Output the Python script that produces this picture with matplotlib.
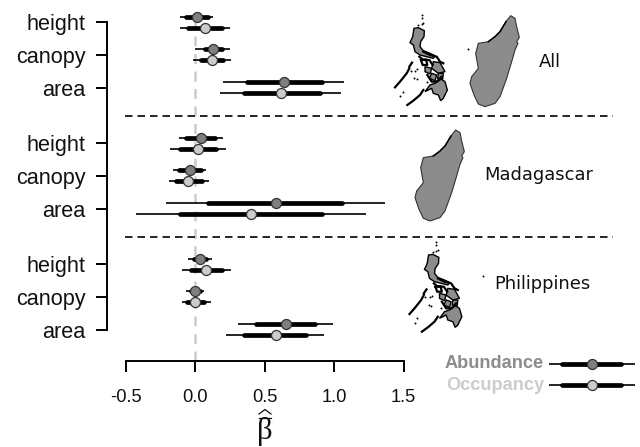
import numpy as np
from matplotlib import pyplot as plt
from matplotlib.patches import Polygon

plt.rcParams['font.family'] = ['Liberation Sans', 'DejaVu Sans']

variables = ['height', 'canopy', 'area']
regions = ['All', 'Madagascar', 'Philippines']

# each row: thin low, thick low, mean, thick high, thin high
abundance = {
    'All': [[-0.11, -0.07, 0.01, 0.09, 0.13],
            [0.00, 0.07, 0.13, 0.19, 0.25],
            [0.20, 0.37, 0.64, 0.91, 1.07]],
    'Madagascar': [[-0.12, -0.065, 0.04, 0.14, 0.20],
                   [-0.16, -0.12, -0.04, 0.04, 0.08],
                   [-0.21, 0.09, 0.58, 1.06, 1.37]],
    'Philippines': [[-0.05, -0.01, 0.03, 0.08, 0.12],
                    [-0.065, -0.035, 0.0, 0.035, 0.065],
                    [0.31, 0.44, 0.65, 0.86, 0.99]],
}
occupancy = {
    'All': [[-0.11, -0.05, 0.07, 0.19, 0.25],
            [-0.02, 0.04, 0.12, 0.20, 0.26],
            [0.18, 0.35, 0.62, 0.90, 1.05]],
    'Madagascar': [[-0.18, -0.11, 0.02, 0.15, 0.22],
                   [-0.19, -0.14, -0.05, 0.05, 0.10],
                   [-0.43, -0.11, 0.40, 0.91, 1.23]],
    'Philippines': [[-0.10, -0.035, 0.08, 0.195, 0.26],
                    [-0.10, -0.06, 0.0, 0.065, 0.11],
                    [0.22, 0.35, 0.58, 0.80, 0.93]],
}
legend_key = [2.55, 2.64, 2.856, 3.07, 3.17]

x_ticks = [-0.5, 0.0, 0.5, 1.0, 1.5]

abund_col = '#7f7f7f'
occ_col = '#cccccc'
W, H = 640, 447


def interval(ax, row, y, col):
    ax.plot([row[0], row[4]], [y, y], color='k', lw=1.2, solid_capstyle='butt', clip_on=False, zorder=3)
    ax.plot([row[1], row[3]], [y, y], color='k', lw=3.4, solid_capstyle='round', clip_on=False, zorder=4)
    ax.plot(row[2], y, 'o', ms=7.2, mfc=col, mec='#333333', mew=0.9, clip_on=False, zorder=5)


f = plt.figure(figsize=(6.4, 4.47), dpi=100)
ax = f.add_axes([126 / W, 1 - 361 / H, (403.5 - 126) / W, 361 / H])
ax.set_xlim(-0.5, 1.5)
ax.set_ylim(361, 0)

ax.spines['right'].set_color('none')
ax.spines['top'].set_color('none')
ax.spines['left'].set_position(('outward', 14))
ax.spines['left'].set_linewidth(1.4)
ax.spines['bottom'].set_linewidth(1.4)

group_top = [22, 143, 264]
y_ticks = []
for g, region in enumerate(regions):
    for i in range(3):
        y = group_top[g] + i * 32.8
        y_ticks.append(y)
        interval(ax, abundance[region][i], y - 5.5, abund_col)
        interval(ax, occupancy[region][i], y + 5.5, occ_col)

ax.spines['left'].set_bounds(y_ticks[0], y_ticks[-1])
ax.set_yticks(y_ticks)
ax.set_yticklabels(variables * 3, fontsize=15.6, color='#111111')
ax.set_xticks(x_ticks)
ax.set_xticklabels(['%.1f' % v for v in x_ticks], fontsize=13.2, color='#111111')
ax.tick_params(axis='y', length=8, width=1.4, pad=7)
ax.tick_params(axis='x', length=8, width=1.4, pad=12)

ax.axvline(x=0, ymin=0, ymax=350 / 361, ls=(0, (4, 3)), color='#cccccc', lw=1.8, zorder=1)
for y in [115.5, 236.5]:
    ax.plot([-0.51, 3.01], [y, y], color='k', ls=(0, (4.5, 3)), lw=1.2, clip_on=False)

# legend
interval(ax, legend_key, 363.5, abund_col)
interval(ax, legend_key, 385, occ_col)

# maps and labels, drawn in pixel units on an overlay
m = f.add_axes([0, 0, 1, 1], facecolor='none')
m.set_xlim(0, W)
m.set_ylim(H, 0)
m.axis('off')

# beta hat axis label, hat and bar as lines so they sit tight on the letter
m.text(265, 432, '\u03b2', fontsize=22, family='Liberation Serif', ha='center', va='center', color='#111111')
m.plot([259, 265, 271], [414, 409.5, 414], color='#111111', lw=0.9)
m.plot([259, 271], [417.5, 417.5], color='#111111', lw=0.9)

madagascar = np.array([(392, 47), (405, 55), (410, 80), (418, 112), (410, 125), (414, 130), (405, 150),
                       (395, 185), (380, 235), (360, 290), (345, 310), (315, 320), (295, 312), (282, 285),
                       (270, 250), (275, 230), (295, 205), (287, 160), (295, 130), (325, 125), (345, 110),
                       (360, 95), (378, 65)], float) / 3 + [380, 0]
for dx, dy in [(0, 0), (-55, 114.3)]:
    m.add_patch(Polygon(madagascar + [dx, dy], fc='#8c8c8c', ec='#333333', lw=0.8))
    m.plot(madagascar[-4:, 0] + dx, madagascar[-4:, 1] + dy, color='k', lw=1.1)

phil_grey = [
    [(72, 55), (85, 53), (103, 62), (102, 80), (92, 95), (90, 110), (100, 122), (120, 130), (135, 137),
     (130, 145), (110, 140), (90, 135), (75, 125), (70, 105), (60, 98), (68, 80)],
    [(130, 155), (150, 158), (165, 185), (145, 190), (125, 175)],
    [(105, 170), (125, 175), (120, 192), (105, 185)],
    [(125, 190), (140, 195), (135, 212), (118, 205)],
    [(145, 190), (160, 190), (158, 208), (143, 205)],
    [(150, 205), (165, 215), (172, 240), (160, 265), (152, 272), (145, 255), (130, 250), (125, 235),
     (105, 245), (120, 225), (135, 220), (150, 210)],
]
phil_black = [
    [(15, 232), (30, 215), (50, 190), (58, 175)],
    [(52, 285), (70, 272), (90, 255), (100, 240)],
    [(93, 150), (108, 148), (112, 165), (98, 165), (93, 150)],
    [(100, 125), (120, 135), (140, 140), (150, 155), (160, 160)],
    [(88, 140), (100, 150), (118, 150), (128, 165)],
    [(112, 195), (125, 215), (140, 215), (155, 200)],
    [(58, 170), (66, 158)],
]
phil_dots = [(95, 15), (95, 24), (85, 45), (95, 43), (235, 118), (38, 245), (30, 258), (80, 208), (73, 205),
             (75, 182), (62, 182), (82, 178), (110, 215), (100, 40)]
for dx, dy in [(390, 10), (404.5, 236.7)]:
    for poly in phil_grey:
        m.add_patch(Polygon(np.array(poly, float) / 3 + [dx, dy], fc='#8c8c8c', ec='k', lw=1.0))
    for line in phil_black:
        p = np.array(line, float) / 3 + [dx, dy]
        m.plot(p[:, 0], p[:, 1], color='k', lw=1.6)
    p = np.array(phil_dots, float) / 3 + [dx, dy]
    m.plot(p[:, 0], p[:, 1], 'o', color='k', ms=1.4, mew=0)

for label, x, y in [('All', 550, 62), ('Madagascar', 539, 175), ('Philippines', 542, 284)]:
    m.text(x, y, label, fontsize=12.9, family='DejaVu Sans', ha='center', va='center', color='#111111')
m.text(544, 364, 'Abundance', fontsize=13.1, fontweight='bold', color='#8c8c8c', ha='right', va='center')
m.text(544, 385, 'Occupancy', fontsize=13.1, fontweight='bold', color='#cccccc', ha='right', va='center')

plt.savefig('out.png', dpi=100)
plt.close('all')
